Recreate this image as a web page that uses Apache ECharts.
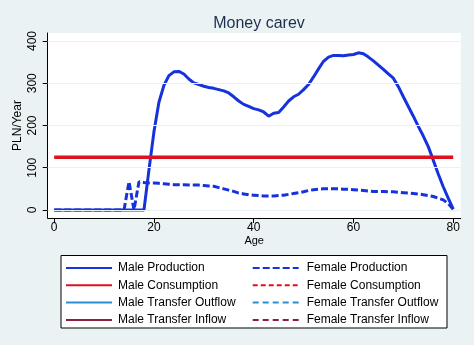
<!DOCTYPE html>
<html><head><meta charset="utf-8">
<script src="https://cdn.jsdelivr.net/npm/echarts@6/dist/echarts.min.js"></script>
<style>html,body{margin:0;padding:0;background:#eaf2f3}#c{width:474px;height:345px}</style>
</head><body><div id="c"></div>
<script>
const ages = [0,1,2,3,4,5,6,7,8,9,10,11,12,13,14,15,16,17,18,19,20,21,22,23,24,25,26,27,28,29,30,31,32,33,34,35,36,37,38,39,40,41,42,43,44,45,46,47,48,49,50,51,52,53,54,55,56,57,58,59,60,61,62,63,64,65,66,67,68,69,70,71,72,73,74,75,76,77,78,79,80];
const maleProduction = [0,0,0,0,0,0,0,0,0,0,0,0,0,0,0,0,0,0,0,95,185,255,295,318,327,328,322,310,301,297,293,290,288,285,282,277,268,258,250,245,240,237,232,222,229,231,244,258,268,274,285,297,315,334,352,362,366,366,365,367,368,372,370,362,353,343,333,322,312,292,268,245,222,198,175,150,118,85,55,28,2];
const femaleProduction = [0,0,0,0,0,0,0,0,0,0,0,0,0,0,0,67,0,67,65,64,64,63,62,61,60,60,60,59,59,59,58,57,56,53,50,47,44,40,38,36,35,34,33,33,33,34,35,37,39,41,43,46,48,49,50,50,50,50,49,49,48,47,46,45,44,44,44,43,43,42,41,40,39,38,36,34,32,28,24,15,2];
const consAges = [0,80];
const maleConsumption = [125,125];
const xTicks = [0,20,40,60,80];
const yTicks = [0,100,200,300,400];
const names = ['Male Production','Male Consumption','Male Transfer Outflow','Male Transfer Inflow','Female Production','Female Consumption','Female Transfer Outflow','Female Transfer Inflow'];

const FONT = 'Arial, "Liberation Sans", sans-serif';
const pair = (xs, ys) => xs.map((x, i) => [x, ys[i]]);
const BLUE = '#1632dc', RED = '#dc1220', LBLUE = '#2a8fd0', MAROON = '#8c1f3c';

const chart = echarts.init(document.getElementById('c'), null, {renderer: 'canvas'});
const legendBase = {orient: 'vertical', top: 262, padding: 0, itemWidth: 46, itemHeight: 12, itemGap: 5.3,
  itemStyle: {opacity: 0, borderWidth: 0}};
chart.setOption({
  backgroundColor: '#eaf2f3',
  animation: false,
  title: {text: 'Money carev', left: 254, textAlign: 'center', top: 11,
    textStyle: {fontFamily: FONT, fontSize: 16, fontWeight: 'normal', color: '#1e2f4d'}},
  grid: {left: 47.7, right: 13.3, top: 33, bottom: 127, show: true, backgroundColor: '#ffffff', borderWidth: 0},
  xAxis: {type: 'value', min: -1.3, max: 81.5,
    axisLine: {show: true, onZero: false, lineStyle: {color: '#000', width: 1}},
    axisTick: {show: true, length: 5, customValues: xTicks, lineStyle: {color: '#000'}},
    axisLabel: {customValues: xTicks, margin: 4, fontFamily: FONT, fontSize: 12, color: '#000'},
    splitLine: {show: false},
    name: 'Age', nameLocation: 'middle', nameGap: 17, nameMoveOverlap: false,
    nameTextStyle: {fontFamily: FONT, fontSize: 11, color: '#000'}},
  yAxis: {type: 'value', min: -19, max: 419,
    axisLine: {show: true, onZero: false, lineStyle: {color: '#000', width: 1}},
    axisTick: {show: true, length: 5, customValues: yTicks, lineStyle: {color: '#000'}},
    axisLabel: {customValues: yTicks, rotate: 90, margin: 9, fontFamily: FONT, fontSize: 12, color: '#000'},
    splitLine: {show: false},
    name: 'PLN/Year', nameLocation: 'middle', nameGap: 24, nameMoveOverlap: false,
    nameTextStyle: {fontFamily: FONT, fontSize: 12, color: '#000'}},
  legend: [
    Object.assign({}, legendBase, {left: 65, data: names.slice(0, 4),
      textStyle: {fontFamily: FONT, fontSize: 12, color: '#000', padding: [0,0,0,1]}}),
    Object.assign({}, legendBase, {left: 251.7, data: names.slice(4),
      textStyle: {fontFamily: FONT, fontSize: 12, color: '#000', padding: [0,0,0,3]}})
  ],
  graphic: [{type: 'rect', shape: {x: 61, y: 255.5, width: 386, height: 72.5}, z: -1,
    style: {fill: '#ffffff', stroke: '#000', lineWidth: 1}}],
  series: [
    {type: 'line', name: 'grid', data: [], z: 1, silent: true,
      markLine: {silent: true, symbol: 'none', label: {show: false}, animation: false,
        lineStyle: {color: '#eaf2f3', width: 1, type: 'solid'},
        data: yTicks.map(v => ({yAxis: v}))}},
    {type: 'line', name: names[0], data: pair(ages, maleProduction), symbol: 'none', z: 3,
      lineStyle: {color: BLUE, width: 3}, itemStyle: {color: BLUE}},
    {type: 'line', name: names[1], data: pair(consAges, maleConsumption), symbol: 'none', z: 3,
      lineStyle: {color: RED, width: 3.5}, itemStyle: {color: RED}},
    {type: 'line', name: names[2], data: [], symbol: 'none', lineStyle: {color: LBLUE, width: 1}, itemStyle: {color: LBLUE}},
    {type: 'line', name: names[3], data: [], symbol: 'none', lineStyle: {color: MAROON, width: 1}, itemStyle: {color: MAROON}},
    {type: 'line', name: names[4], data: pair(ages, femaleProduction), symbol: 'none', z: 3,
      lineStyle: {color: BLUE, width: 3, type: [7, 3]}, itemStyle: {color: BLUE}},
    {type: 'line', name: names[5], data: [], symbol: 'none', lineStyle: {color: RED, width: 3.5, type: [5, 3]}, itemStyle: {color: RED}},
    {type: 'line', name: names[6], data: [], symbol: 'none', lineStyle: {color: LBLUE, width: 1, type: [6, 4]}, itemStyle: {color: LBLUE}},
    {type: 'line', name: names[7], data: [], symbol: 'none', lineStyle: {color: MAROON, width: 1, type: [6, 4]}, itemStyle: {color: MAROON}}
  ]
});
</script></body></html>
